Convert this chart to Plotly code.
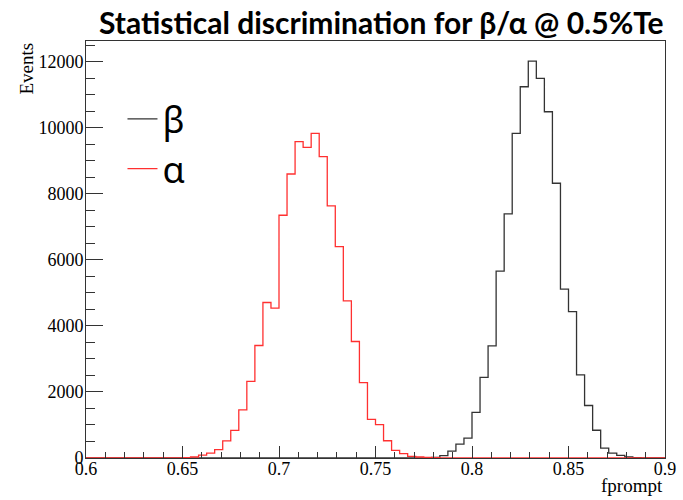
import plotly.graph_objects as go

# Histogram binning (fprompt), 72 bins from 0.6 to 0.9
x_min = 0.6
x_max = 0.9
n_bins = 72

# beta (black) counts per bin
beta_counts = [0] * 42 + [
    10, 20, 70, 210, 420, 600,
    1380, 2440, 3398, 5658, 7392, 9833, 11244, 12021, 11498, 10487, 8321, 5113,
    4436, 2520, 1590, 840, 300, 150, 80, 30, 10,
] + [0] * 3

# alpha (red) counts per bin
alpha_counts = [0] * 11 + [
    3, 10, 30, 90, 150, 255, 520, 835, 1455, 2318, 3407, 4709, 4538,
    7352, 8602, 9580, 9409, 9833, 9126, 7634, 6403, 4760, 3528, 2283, 1170,
    1008, 523, 231, 130, 50, 30, 20, 10,
] + [0] * 28

title_text = "Statistical discrimination for β/α @ 0.5%Te"
x_title = "fprompt"
y_title = "Events"
x_ticks = [0.6, 0.65, 0.7, 0.75, 0.8, 0.85, 0.9]
x_tick_labels = ["0.6", "0.65", "0.7", "0.75", "0.8", "0.85", "0.9"]
y_ticks = [0, 2000, 4000, 6000, 8000, 10000, 12000]
y_tick_labels = ["0", "2000", "4000", "6000", "8000", "10000", "12000"]

width = (x_max - x_min) / n_bins
edges = [x_min + i * width for i in range(n_bins + 1)]


def step(counts):
    return edges, list(counts) + [counts[-1]]


fig = go.Figure()
bx, by = step(beta_counts)
fig.add_trace(go.Scatter(x=bx, y=by, mode="lines", line_shape="hv",
                         line=dict(color="#333333", width=1.3), name="β"))
ax, ay = step(alpha_counts)
fig.add_trace(go.Scatter(x=ax, y=ay, mode="lines", line_shape="hv",
                         line=dict(color="#ff3030", width=1.3), name="α"))

serif = "Liberation Serif"
fig.update_layout(
    width=683, height=500,
    margin=dict(l=86, r=18, t=41, b=42, autoexpand=False),
    paper_bgcolor="white", plot_bgcolor="white",
    showlegend=True,
    legend=dict(x=0.063, y=0.885, xanchor="left", yanchor="top",
                font=dict(family="Noto Sans", size=36, color="black"),
                bgcolor="rgba(0,0,0,0)", tracegroupgap=0),
    annotations=[
        dict(text="<b>" + title_text + "</b>", xref="paper", yref="paper",
             x=0.51, y=1.0, xanchor="center", yanchor="bottom", yshift=-1,
             showarrow=False, font=dict(family="Lato", size=30, color="black")),
        dict(text=x_title, xref="paper", yref="paper", x=1.0, y=0,
             xanchor="right", yanchor="top", yshift=-15, showarrow=False,
             font=dict(family=serif, size=19, color="black")),
        dict(text=y_title, xref="paper", yref="paper", x=0, y=1.0,
             xanchor="right", yanchor="top", xshift=-48, showarrow=False,
             textangle=-90, font=dict(family=serif, size=19, color="black")),
    ],
)
fig.update_xaxes(
    range=[x_min, x_max], showgrid=False, zeroline=False, automargin=False,
    showline=True, mirror=True, linecolor="#333333", linewidth=1,
    ticks="inside", ticklen=12, tickcolor="#333333", ticklabelstandoff=-6,
    tickvals=x_ticks, ticktext=x_tick_labels,
    minor=dict(ticks="inside", ticklen=6, dtick=0.01, tickcolor="#333333", showgrid=False),
    tickfont=dict(family=serif, size=18, color="black"),
)
fig.update_yaxes(
    range=[0, 12630], showgrid=False, zeroline=False, automargin=False,
    showline=True, mirror=True, linecolor="#333333", linewidth=1,
    ticks="inside", ticklen=17, tickcolor="#333333", ticklabelstandoff=-2,
    tickvals=y_ticks, ticktext=y_tick_labels,
    minor=dict(ticks="inside", ticklen=9, dtick=500, tickcolor="#333333", showgrid=False),
    tickfont=dict(family=serif, size=18, color="black"),
)

fig.write_html(
    "out.html",
    config={"displayModeBar": False},
    post_script="document.body.style.margin='0';document.body.style.padding='0';",
)
